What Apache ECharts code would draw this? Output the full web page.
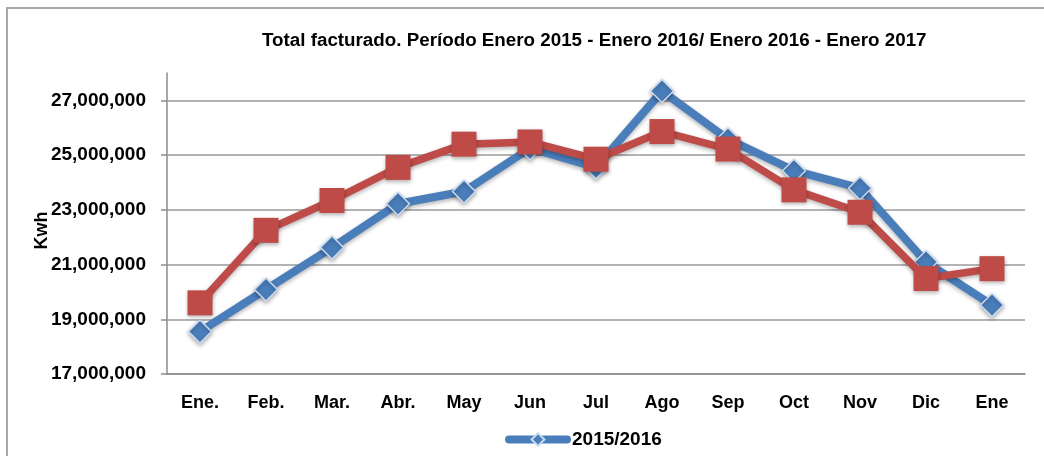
<!DOCTYPE html>
<html>
<head>
<meta charset="utf-8">
<script src="https://cdn.jsdelivr.net/npm/echarts@6/dist/echarts.min.js"></script>
<style>
  html, body { margin: 0; padding: 0; background: #fff; }
  #chart { width: 1044px; height: 456px; }
</style>
</head>
<body>
<div id="chart"></div>
<script>
// months on the x axis
const months = ['Ene.', 'Feb.', 'Mar.', 'Abr.', 'May', 'Jun', 'Jul', 'Ago', 'Sep', 'Oct', 'Nov', 'Dic', 'Ene']

// Kwh billed
const serie2015 = [18550000, 20090000, 21620000, 23220000, 23670000, 25250000, 24550000,
                   27340000, 25580000, 24430000, 23790000, 21090000, 19520000]
const serie2016 = [19600000, 22250000, 23340000, 24550000, 25400000, 25480000, 24850000,
                   25860000, 25220000, 23730000, 22910000, 20490000, 20850000]

const yMin = 17000000
const yMax = 28000000
const yStep = 2000000

const FONT = '"Liberation Sans", Arial, sans-serif'
const BLUE = '#4a7ebb'
const RED = '#be4b48'

const chart = echarts.init(document.getElementById('chart'))

const fmt = v => v.toString().replace(/\B(?=(\d{3})+(?!\d))/g, ',')

chart.setOption({
  animation: false,
  backgroundColor: '#fff',
  // frame of the original screenshot
  graphic: [{
    type: 'rect',
    shape: { x: 7, y: 8, width: 1100, height: 500 },
    style: { fill: 'none', stroke: '#a8a8a8', lineWidth: 2 },
    silent: true
  }],
  title: {
    text: 'Total facturado. Período Enero 2015 - Enero 2016/ Enero 2016 - Enero 2017',
    left: 262,
    top: 31,
    padding: 0,
    textStyle: { fontFamily: FONT, fontWeight: 'bold', fontSize: 18.8, color: '#000' }
  },
  legend: {
    data: ['2015/2016'],
    left: 505,
    top: 430,
    padding: 0,
    itemWidth: 58,
    itemHeight: 16,
    itemGap: 4,
    lineStyle: { width: 8, cap: 'round' },
    textStyle: { fontFamily: FONT, fontWeight: 'bold', fontSize: 19, color: '#000' }
  },
  grid: { left: 167, right: 19, top: 73, bottom: 82 },
  xAxis: {
    type: 'category',
    data: months,
    boundaryGap: true,
    axisLine: { lineStyle: { color: '#8c8c8c', width: 1.5 } },
    axisTick: { length: 6, lineStyle: { color: '#8c8c8c', width: 1.5 } },
    axisLabel: { margin: 20, fontFamily: FONT, fontWeight: 'bold', fontSize: 18, color: '#000' }
  },
  yAxis: {
    type: 'value',
    min: yMin,
    max: yMax,
    interval: yStep,
    name: 'Kwh',
    nameLocation: 'middle',
    nameGap: 116,
    nameMoveOverlap: false,
    nameTextStyle: { fontFamily: FONT, fontWeight: 'bold', fontSize: 18, color: '#000', padding: [0, 14, 0, 0] },
    axisLine: { show: true, lineStyle: { color: '#8c8c8c', width: 1.5 } },
    axisTick: { show: true, length: 6, lineStyle: { color: '#8c8c8c', width: 1.5 } },
    axisLabel: {
      margin: 21,
      showMaxLabel: false,
      fontFamily: FONT, fontWeight: 'bold', fontSize: 19, color: '#000',
      formatter: v => fmt(v)
    },
    splitLine: {
      show: true,
      // last (28M) line hidden, like the top of the original plot
      lineStyle: { color: ['#9a9a9a', '#9a9a9a', '#9a9a9a', '#9a9a9a', '#9a9a9a', '#9a9a9a', 'rgba(0,0,0,0)'], width: 1.5 }
    }
  },
  series: [
    {
      name: '2015/2016',
      type: 'line',
      data: serie2015,
      symbol: 'diamond',
      symbolSize: 23,
      lineStyle: { color: BLUE, width: 8, shadowColor: 'rgba(0,0,0,0.3)', shadowBlur: 4, shadowOffsetY: 2 },
      itemStyle: { color: BLUE, borderColor: '#c9daf0', borderWidth: 1.5, shadowColor: 'rgba(0,0,0,0.3)', shadowBlur: 4, shadowOffsetY: 2 },
      z: 2
    },
    {
      name: '2016/2017',
      type: 'line',
      data: serie2016,
      symbol: 'rect',
      symbolSize: 25,
      lineStyle: { color: RED, width: 7.5, shadowColor: 'rgba(0,0,0,0.3)', shadowBlur: 4, shadowOffsetY: 2 },
      itemStyle: { color: RED, borderColor: RED, borderWidth: 0, shadowColor: 'rgba(0,0,0,0.3)', shadowBlur: 4, shadowOffsetY: 2 },
      z: 3
    }
  ]
})
</script>
</body>
</html>
